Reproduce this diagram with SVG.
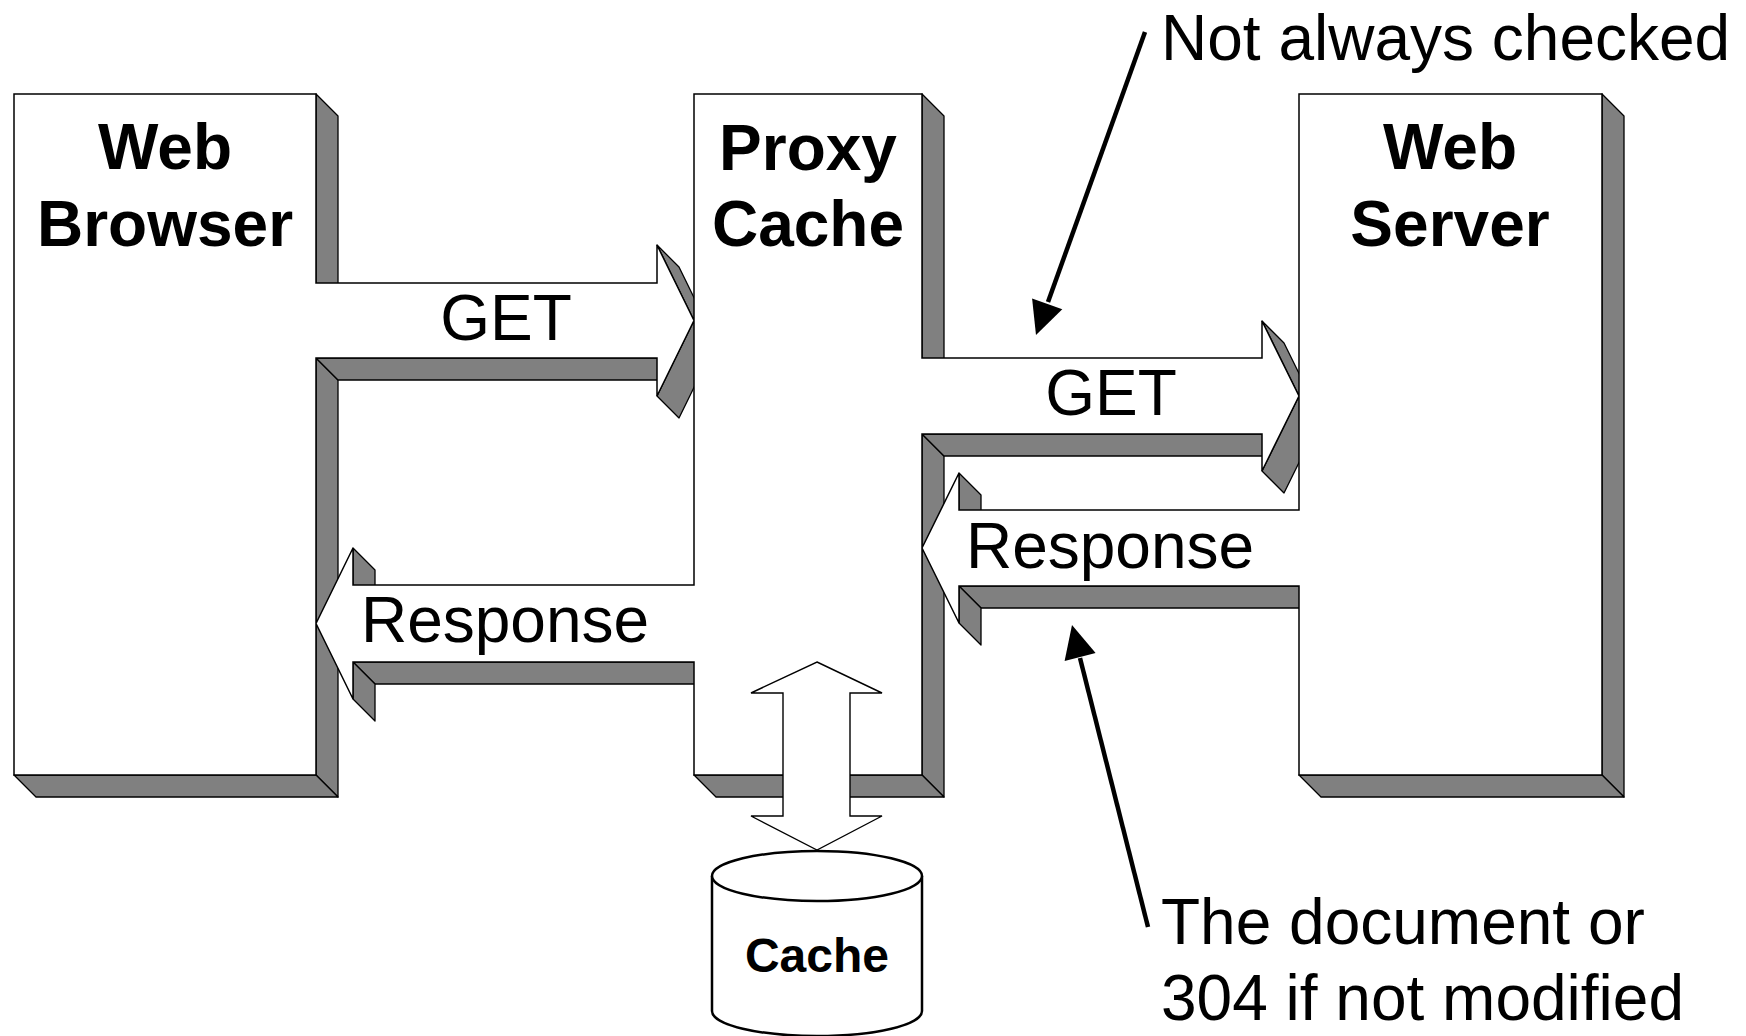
<svg xmlns="http://www.w3.org/2000/svg" width="1746" height="1036" viewBox="0 0 1746 1036">
<defs>
<style>
.side{fill:#808080;stroke:#000;stroke-width:1.3;stroke-linejoin:round}
.front{fill:#fff;stroke:none}
.outline{fill:none;stroke:#000;stroke-width:1.5;stroke-linejoin:miter;stroke-miterlimit:2}
.lbl{font-family:"Liberation Sans",Arial,sans-serif;font-weight:bold;font-size:64px;fill:#000;text-anchor:middle}
.msg{font-family:"Liberation Sans",Arial,sans-serif;font-size:64px;fill:#000;text-anchor:middle}
.note{font-family:"Liberation Sans",Arial,sans-serif;font-size:64px;fill:#000}
.ann{stroke:#000;stroke-width:4.5;fill:none}
.head{fill:#000;stroke:none}
</style>
</defs>
<rect width="1746" height="1036" fill="#fff"/>

<g id="depth-faces">
<polygon class="side" points="316,94 316,283 338,305 338,116"/>
<polygon class="side" points="657,245 694,320.5 716,342.5 679,267"/>
<polygon class="side" points="922,94 922,358 944,380 944,116"/>
<polygon class="side" points="1262,321 1299,396 1321,418 1284,343"/>
<polygon class="side" points="1602,94 1602,775 1624,797 1624,116"/>
<polygon class="side" points="1299,775 1602,775 1624,797 1321,797"/>
<polygon class="side" points="959,586 1299,586 1321,608 981,608"/>
<polygon class="side" points="959,586 959,623 981,645 981,608"/>
<polygon class="side" points="922,434 922,775 944,797 944,456"/>
<polygon class="side" points="694,775 922,775 944,797 716,797"/>
<polygon class="side" points="353,662 694,662 716,684 375,684"/>
<polygon class="side" points="353,662 353,699 375,721 375,684"/>
<polygon class="side" points="316,358 316,775 338,797 338,380"/>
<polygon class="side" points="14,775 316,775 338,797 36,797"/>
<polygon class="side" points="316,358 657,358 679,380 338,380"/>
<polygon class="side" points="657,396 694,320.5 716,342.5 679,418"/>
<polygon class="side" points="353,548 353,585 375,607 375,570"/>
<polygon class="side" points="922,434 1262,434 1284,456 944,456"/>
<polygon class="side" points="1262,471 1299,396 1321,418 1284,493"/>
<polygon class="side" points="959,473 959,510 981,532 981,495"/>
</g>

<g id="node-web-browser">
<rect class="front" x="14" y="94" width="302" height="681"/>
</g>
<g id="node-proxy-cache">
<rect class="front" x="694" y="94" width="228" height="681"/>
</g>
<g id="node-web-server">
<rect class="front" x="1299" y="94" width="303" height="681"/>
</g>

<g id="connectors">
<g id="conn-get-1">
<polygon class="front" points="313,283 657,283 657,245 694,320.5 657,396 657,358 313,358"/>
</g>
<g id="conn-response-1">
<polygon class="front" points="697,585 353,585 353,548 316,623.5 353,699 353,662 697,662"/>
</g>
<g id="conn-get-2">
<polygon class="front" points="919,358 1262,358 1262,321 1299,396 1262,471 1262,434 919,434"/>
</g>
<g id="conn-response-2">
<polygon class="front" points="1302,510 959,510 959,473 922,548 959,623 959,586 1302,586"/>
</g>
<path id="frame-outline" class="outline" d="M14,94 L316,94 L316,283 L657,283 L657,245 L694,320.5 L694,94 L922,94 L922,358 L1262,358 L1262,321 L1299,396 L1299,94 L1602,94 L1602,775 L1299,775 L1299,586 L959,586 L959,623 L922,548 L922,775 L694,775 L694,662 L353,662 L353,699 L316,623.5 L316,775 L14,775 Z M316,358 L657,358 L657,396 L694,320.5 L694,585 L353,585 L353,548 L316,623.5 Z M922,434 L1262,434 L1262,471 L1299,396 L1299,510 L959,510 L959,473 L922,548 Z"/>
<text class="msg" x="506" y="340">GET</text>
<text class="msg" x="505" y="642">Response</text>
<text class="msg" x="1111" y="415">GET</text>
<text class="msg" x="1110" y="568">Response</text>
<g id="conn-cache-io">
<polygon fill="#fff" stroke="#000" stroke-width="1.4" points="817,662 882,693 850,693 850,816 882,816 817,850 751,816 783,816 783,693 751,693"/>
</g>
<g id="annotation-not-checked">
<line class="ann" x1="1145" y1="32" x2="1048" y2="302"/>
<polygon class="head" points="1036,335 1062.3,309.3 1032.1,298.5"/>
</g>
<g id="annotation-document">
<line class="ann" x1="1148" y1="927" x2="1080" y2="658"/>
<polygon class="head" points="1072,625 1095.6,653.1 1064.6,660.9"/>
</g>
</g>

<g id="labels-nodes">
<text class="lbl" x="165" y="169">Web</text>
<text class="lbl" x="165" y="246">Browser</text>
<text class="lbl" x="808" y="170">Proxy</text>
<text class="lbl" x="808" y="246">Cache</text>
<text class="lbl" x="1450" y="169">Web</text>
<text class="lbl" x="1450" y="246">Server</text>
</g>

<g id="node-cache-store">
<path d="M712,876 L712,1011 A105,25 0 0 0 922,1011 L922,876" fill="#fff" stroke="#000" stroke-width="2.5"/>
<ellipse cx="817" cy="876" rx="105" ry="25" fill="#fff" stroke="#000" stroke-width="2.5"/>
<text class="lbl" x="817" y="972" style="font-size:48px">Cache</text>
</g>

<g id="notes">
<text class="note" x="1161" y="60">Not always checked</text>
<text class="note" x="1161" y="944">The document or</text>
<text class="note" x="1161" y="1020">304 if not modified</text>
</g>
</svg>
